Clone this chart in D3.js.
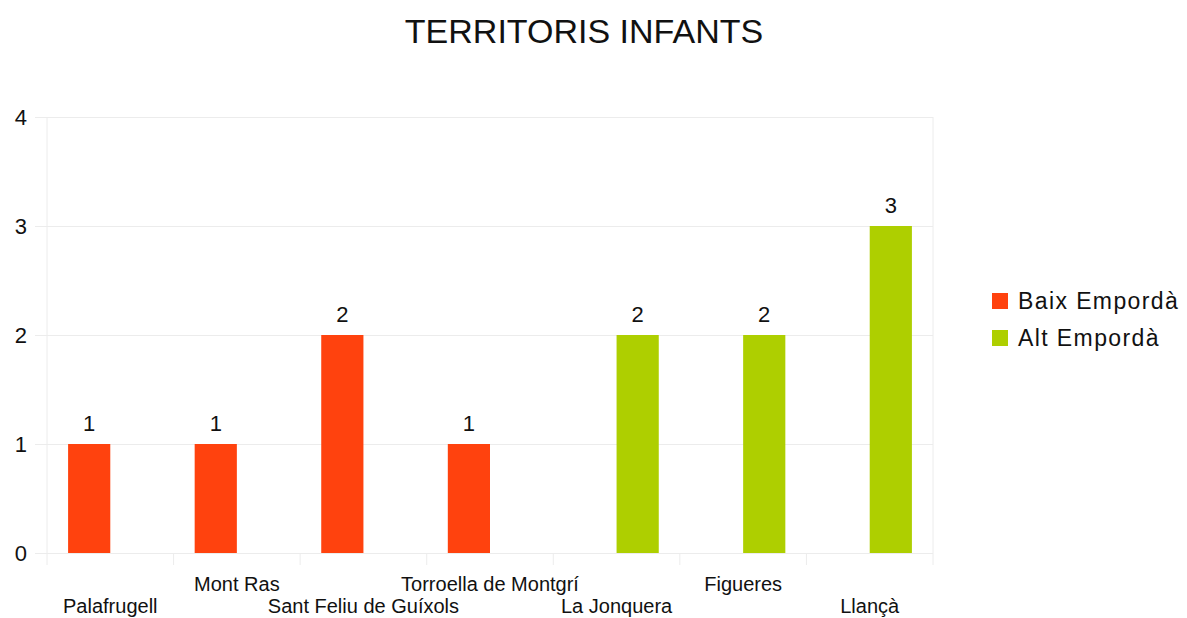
<!DOCTYPE html>
<html>
<head>
<meta charset="utf-8">
<script src="https://cdn.jsdelivr.net/npm/d3@7"></script>
<style>
  body { margin: 0; background: #fff; }
  text { font-family: "Liberation Sans", Arial, sans-serif; fill: #111; }
  .grid line { stroke: #ececec; }
  .grid path { display: none; }
</style>
</head>
<body>
<svg id="chart" width="1187" height="618"></svg>
<script>
var categories = ["Palafrugell", "Mont Ras", "Sant Feliu de Guíxols", "Torroella de Montgrí",
    "La Jonquera", "Figueres", "Llançà"]
var seriesNames = ["Baix Empordà", "Alt Empordà"]
var baixValues = [1, 1, 2, 1, null, null, null]
var altValues = [null, null, null, null, 2, 2, 3]
var yTicks = [0, 1, 2, 3, 4]

var colors = ["#ff420e", "#aecf00"]
var svg = d3.select("#chart")

var plot = { left: 47, right: 933, top: 117, bottom: 553 }

var x = d3.scaleBand()
    .domain(categories)
    .range([plot.left, plot.right])

var xInner = d3.scaleBand()
    .domain(seriesNames)
    .range([0, x.bandwidth()])
    .paddingOuter(0.5)

var y = d3.scaleLinear()
    .domain([0, 4])
    .range([plot.bottom, plot.top])

var color = d3.scaleOrdinal()
    .domain(seriesNames)
    .range(colors)

// title
svg.append("text")
    .attr("x", 584)
    .attr("y", 43)
    .attr("text-anchor", "middle")
    .style("font-size", "34px")
    .text("TERRITORIS INFANTS")

// horizontal grid + y labels
var yAxis = d3.axisLeft(y)
    .tickValues(yTicks)
    .tickSize(12)
    .tickPadding(8)
    .tickFormat(d3.format("d"))

svg.append("g")
    .attr("class", "grid")
    .attr("transform", "translate(" + plot.left + ",0)")
    .call(yAxis)
    .call(function (g) {
        g.selectAll("line").attr("x2", plot.right - plot.left).attr("x1", -12)
        g.selectAll("text")
            .attr("x", 27 - plot.left)
            .style("font-size", "22px")
            .style("fill", "#111")
    })

// category dividers (vertical light lines below axis)
var bounds = categories.map(function (c) { return x(c) }).concat([plot.right])
svg.append("g")
    .selectAll("line")
    .data(bounds)
    .enter()
    .append("line")
    .attr("x1", function (d) { return d })
    .attr("x2", function (d) { return d })
    .attr("y1", function (d, i) { return (i == 0 || i == bounds.length - 1) ? plot.top : plot.bottom })
    .attr("y2", plot.bottom + 12)
    .attr("stroke", "#ececec")

// bars
var rows = categories.map(function (c, i) {
    return { cat: c, values: [baixValues[i], altValues[i]] }
})

var groups = svg.append("g")
    .selectAll("g")
    .data(rows)
    .enter()
    .append("g")
    .attr("transform", function (d) { return "translate(" + x(d.cat) + ",0)" })

var cells = groups.selectAll("g")
    .data(function (d) {
        return seriesNames.map(function (s, j) { return { name: s, value: d.values[j] } })
            .filter(function (e) { return e.value != null })
    })
    .enter()
    .append("g")

cells.append("rect")
    .attr("x", function (d) { return xInner(d.name) })
    .attr("y", function (d) { return y(d.value) })
    .attr("width", xInner.bandwidth())
    .attr("height", function (d) { return y(0) - y(d.value) })
    .attr("fill", function (d) { return color(d.name) })

cells.append("text")
    .attr("x", function (d) { return xInner(d.name) + xInner.bandwidth() / 2 })
    .attr("y", function (d) { return y(d.value) - 13 })
    .attr("text-anchor", "middle")
    .style("font-size", "22px")
    .text(function (d) { return d.value })

// x labels, staggered
svg.append("g")
    .selectAll("text")
    .data(categories)
    .enter()
    .append("text")
    .attr("x", function (d) { return x(d) + x.bandwidth() / 2 })
    .attr("y", function (d, i) { return i % 2 == 0 ? 613 : 591 })
    .attr("text-anchor", "middle")
    .style("font-size", "20px")
    .text(function (d) { return d })

// legend
var legend = svg.append("g")
    .selectAll("g")
    .data(seriesNames)
    .enter()
    .append("g")
    .attr("transform", function (d, i) { return "translate(992," + (293 + i * 37) + ")" })

legend.append("rect")
    .attr("width", 16)
    .attr("height", 16)
    .attr("fill", function (d) { return color(d) })

legend.append("text")
    .attr("x", 26)
    .attr("y", 16)
    .style("font-size", "23px")
    .style("letter-spacing", "1.4px")
    .text(function (d) { return d })
</script>
</body>
</html>
